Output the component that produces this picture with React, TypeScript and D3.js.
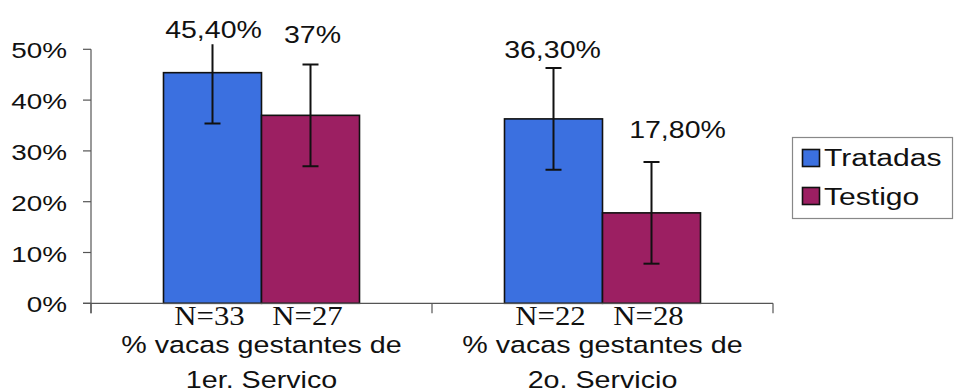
import React from "react";
import * as d3 from "d3";

const categories = ["g1", "g2"];
const categoryLines = [
  ["% vacas gestantes de", "1er. Servico"],
  ["% vacas gestantes de", "2o. Servicio"],
];
const seriesNames = ["Tratadas", "Testigo"];
const seriesColors = ["#3b70e0", "#9c1f62"];
const tratadas = [0.454, 0.363];
const testigo = [0.37, 0.178];
const errTratadas = [0.1, 0.1];
const errTestigo = [0.1, 0.1];
const valueLabels = [
  ["45,40%", "36,30%"],
  ["37%", "17,80%"],
];
const nLabels = [
  ["N=33", "N=22"],
  ["N=27", "N=28"],
];
const yTicks = [0, 0.1, 0.2, 0.3, 0.4, 0.5];

const W = 955;
const H = 392;
const SX = 1.24;
const ARIAL = "'Liberation Sans', Arial, sans-serif";
const TIMES = "'Liberation Serif', 'Times New Roman', serif";

export default function App() {
  const y = d3.scaleLinear().domain([0, 0.5]).range([303.3, 49.3]);
  const x = d3.scaleBand<string>().domain(categories).range([91, 773]).paddingInner(0).paddingOuter(0);
  const barW = 98;
  const inner = d3.scaleBand<string>().domain(seriesNames).range([-barW, barW]);
  const values = [tratadas, testigo];
  const errs = [errTratadas, errTestigo];
  // manual label nudges (relative to bar top / bar center)
  const labelDy = [
    [-35, -61],
    [-72, -75],
  ];
  const labelDx = [
    [1, -1],
    [2, 26],
  ];
  const fmt = d3.format(".0%");
  const baseY = y(0);

  const sText = (
    tx: number,
    ty: number,
    s: string,
    size: number,
    anchor: string,
    family = ARIAL,
    sx = SX,
    key?: string
  ) => (
    <g key={key} transform={`translate(${tx},${ty}) scale(${sx},1)`}>
      <text x={0} y={0} fontSize={size} fontFamily={family} textAnchor={anchor} fill="#111">
        {s}
      </text>
    </g>
  );

  return (
    <svg width={W} height={H} style={{ position: "absolute", left: 0, top: 0, background: "#fff" }}>
      <defs>
        <clipPath id="plotclip">
          <rect x={0} y={y(0.51)} width={W} height={H} />
        </clipPath>
      </defs>
      {/* y axis */}
      <line x1={91} x2={91} y1={y(0.5)} y2={baseY + 10} stroke="#555" strokeWidth={1.2} />
      {yTicks.map((t) => (
        <g key={t}>
          <line x1={83} x2={91} y1={y(t)} y2={y(t)} stroke="#555" strokeWidth={1.2} />
          {sText(67, y(t) + 9, fmt(t), 22.5, "end", ARIAL, SX)}
        </g>
      ))}
      {/* bars */}
      {categories.map((c, ci) =>
        seriesNames.map((s, si) => {
          const cx = (x(c) as number) + x.bandwidth() / 2;
          const bx = cx + (inner(s) as number);
          const v = values[si][ci];
          return (
            <rect
              key={c + s}
              x={bx}
              y={y(v)}
              width={inner.bandwidth()}
              height={baseY - y(v)}
              fill={seriesColors[si]}
              stroke="#111"
              strokeWidth={1.6}
            />
          );
        })
      )}
      {/* x axis */}
      <line x1={83} x2={773} y1={baseY} y2={baseY} stroke="#555" strokeWidth={1.2} />
      {[...categories.map((c) => x(c) as number), 773].map((tx, i) => (
        <line key={i} x1={tx} x2={tx} y1={baseY} y2={baseY + 10} stroke="#555" strokeWidth={1.2} />
      ))}
      {/* error bars */}
      <g clipPath="url(#plotclip)">
        {categories.map((c, ci) =>
          seriesNames.map((s, si) => {
            const cx = (x(c) as number) + x.bandwidth() / 2 + (inner(s) as number) + inner.bandwidth() / 2;
            const v = values[si][ci];
            const e = errs[si][ci];
            return (
              <g key={"e" + c + s} stroke="#111" strokeWidth={2}>
                <line x1={cx} x2={cx} y1={y(v - e)} y2={y(v + e)} />
                <line x1={cx - 8} x2={cx + 8} y1={y(v - e)} y2={y(v - e)} />
                <line x1={cx - 8} x2={cx + 8} y1={y(v + e)} y2={y(v + e)} />
              </g>
            );
          })
        )}
      </g>
      {/* value labels */}
      {categories.map((c, ci) =>
        seriesNames.map((s, si) => {
          const cx = (x(c) as number) + x.bandwidth() / 2 + (inner(s) as number) + inner.bandwidth() / 2;
          const v = values[si][ci];
          return sText(cx + labelDx[si][ci], y(v) + labelDy[si][ci], valueLabels[si][ci], 23, "middle", ARIAL, SX, "v" + c + s);
        })
      )}
      {/* N labels */}
      {categories.map((c, ci) =>
        seriesNames.map((s, si) => {
          const cx = (x(c) as number) + x.bandwidth() / 2 + (inner(s) as number) + inner.bandwidth() / 2;
          return sText(cx - 3, 325, nLabels[si][ci], 28, "middle", TIMES, 1.1, "n" + c + s);
        })
      )}
      {/* category labels */}
      {categories.map((c, ci) => {
        const cx = (x(c) as number) + x.bandwidth() / 2;
        return (
          <g key={"c" + c}>
            {categoryLines[ci].map((ln, li) => sText(cx, 353 + li * 35, ln, 23.5, "middle", ARIAL, 1.22, "l" + li))}
          </g>
        );
      })}
      {/* legend */}
      <rect x={792.5} y={137.5} width={160} height={81} fill="#fff" stroke="#888" strokeWidth={1.2} />
      {seriesNames.map((s, i) => (
        <g key={"lg" + s}>
          <rect x={802.5} y={149.5 + i * 38} width={17} height={17} fill={seriesColors[i]} stroke="#111" strokeWidth={1.6} />
          {sText(824, 165.5 + i * 39, s, 23.5, "start", ARIAL, 1.28)}
        </g>
      ))}
    </svg>
  );
}
